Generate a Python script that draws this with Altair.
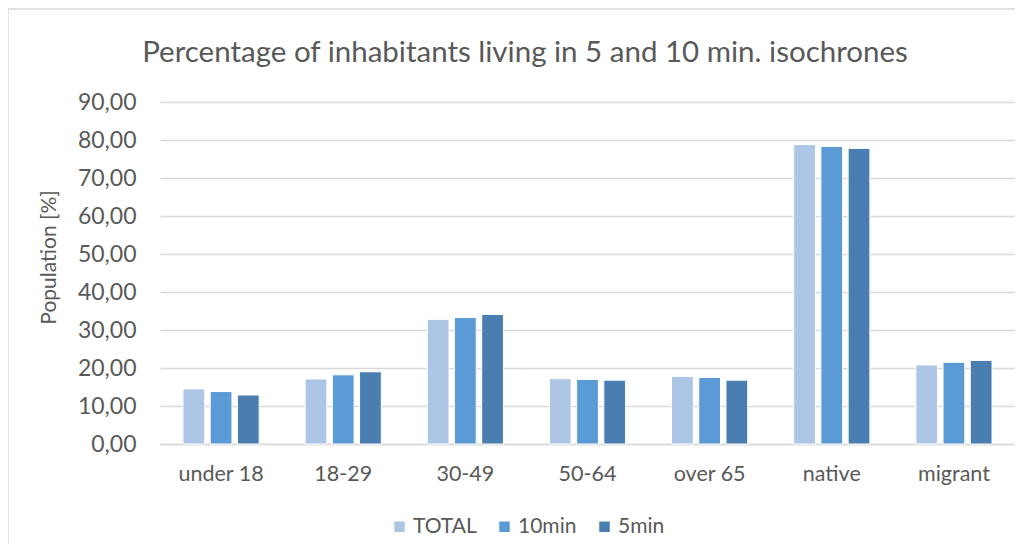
import altair as alt
import pandas as pd

categories = ["under 18", "18-29", "30-49", "50-64", "over 65", "native", "migrant"]
series = ["TOTAL", "10min", "5min"]
total = [14.5, 17.1, 32.8, 17.2, 17.8, 78.8, 20.8]
min10 = [13.8, 18.2, 33.3, 17.0, 17.5, 78.3, 21.5]
min5 = [12.9, 19.0, 34.1, 16.8, 16.8, 77.8, 22.0]
colors = ["#aec6e6", "#5b9bd5", "#4a7eb1"]
title_text = "Percentage of inhabitants living in 5 and 10 min. isochrones"

rows = []
for i, c in enumerate(categories):
    for s, vals in zip(series, [total, min10, min5]):
        rows.append({"category": c, "series": s, "value": vals[i]})
df = pd.DataFrame(rows)

FONT = "Lato"
GREY = "#595959"

bars = alt.Chart(df).mark_bar(stroke="white", strokeWidth=1).encode(
    x=alt.X("category:N", sort=categories,
            scale=alt.Scale(paddingInner=0.376, paddingOuter=0.188),
            axis=alt.Axis(title=None, labelAngle=0, labelFontSize=21.5, labelColor=GREY,
                          labelFont=FONT, labelPadding=19, ticks=False, domainColor="#d9d9d9",
                          domainWidth=1.5)),
    xOffset=alt.XOffset("series:N", sort=series, scale=alt.Scale(paddingInner=0.2)),
    y=alt.Y("value:Q", scale=alt.Scale(domain=[0, 90]),
            axis=alt.Axis(title="Population [%]", values=list(range(0, 91, 10)),
                          labelExpr="replace(format(datum.value, '.2f'), '.', ',')",
                          labelFontSize=23, labelColor=GREY, labelFont=FONT, labelPadding=24,
                          ticks=False, domain=False, gridColor="#d9d9d9", gridWidth=1.5,
                          titleFontSize=21, titleColor=GREY, titleFont=FONT,
                          titleFontWeight="normal", titlePadding=18, titleY=155)),
    color=alt.Color("series:N", sort=series,
                    scale=alt.Scale(domain=series, range=colors),
                    legend=alt.Legend(title=None, orient="none", direction="horizontal",
                                      legendX=229, legendY=414, symbolType="square",
                                      symbolSize=110, symbolStrokeWidth=0,
                                      labelFontSize=21, labelColor=GREY, labelFont=FONT,
                                      columnPadding=17, labelOffset=3)),
)

one = pd.DataFrame({"t": [title_text]})
left_border = alt.Chart(one).mark_rule(color="#d9d9d9", strokeWidth=1.5).encode(
    x=alt.value(-152), y=alt.value(-93), y2=alt.value(460)
)
top_border = alt.Chart(one).mark_rule(color="#d9d9d9", strokeWidth=1.5).encode(
    x=alt.value(-152), x2=alt.value(880), y=alt.value(-93)
)
title = alt.Chart(one).mark_text(font=FONT, fontSize=29.5, color=GREY, align="center",
                                 baseline="alphabetic").encode(
    text="t:N", x=alt.value(365), y=alt.value(-40)
)

chart = alt.layer(left_border, top_border, title, bars).properties(
    width=855,
    height=342,
    autosize=alt.AutoSizeParams(type="none"),
    padding={"left": 152, "top": 94, "right": 0, "bottom": 100},
).configure_view(stroke=None)

chart.save("out.html", embed_options={"renderer": "svg", "actions": False})
